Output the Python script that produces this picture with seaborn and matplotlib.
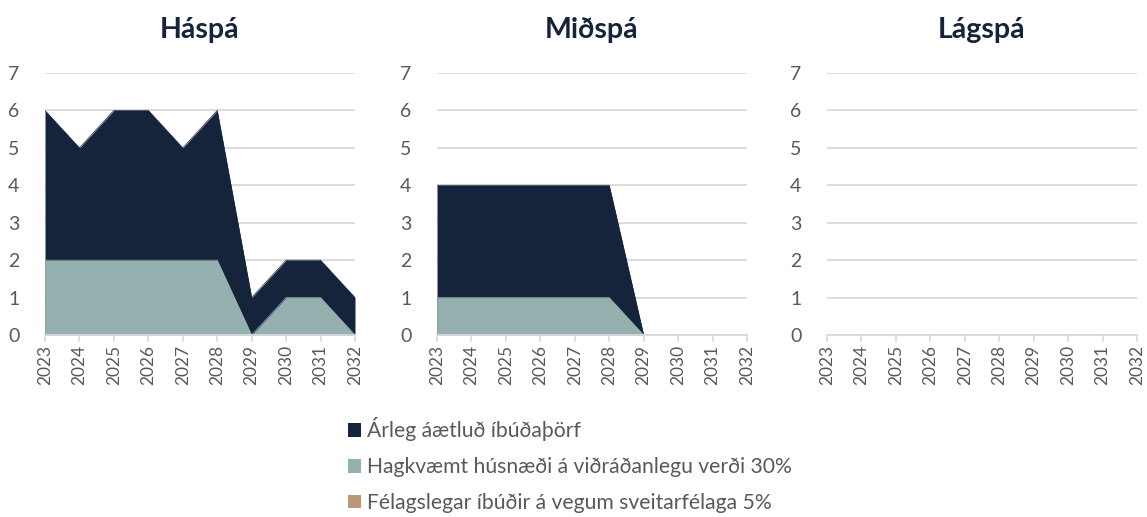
import numpy as np
import pandas as pd
import matplotlib
matplotlib.use("Agg")
import matplotlib.pyplot as plt
from matplotlib.patches import Patch
import seaborn as sns

years = [2023, 2024, 2025, 2026, 2027, 2028, 2029, 2030, 2031, 2032]
panels = ["Háspá", "Miðspá", "Lágspá"]
series_names = ["Árleg áætluð íbúðaþörf",
                "Hagkvæmt húsnæði á viðráðanlegu verði 30%",
                "Félagslegar íbúðir á vegum sveitarfélaga 5%"]

# Háspá
has_total = [6, 5, 6, 6, 5, 6, 1, 2, 2, 1]
has_afford = [2, 2, 2, 2, 2, 2, 0, 1, 1, 0]
has_social = [0, 0, 0, 0, 0, 0, 0, 0, 0, 0]
# Miðspá
mid_total = [4, 4, 4, 4, 4, 4, 0, np.nan, np.nan, np.nan]
mid_afford = [1, 1, 1, 1, 1, 1, 0, np.nan, np.nan, np.nan]
mid_social = [0, 0, 0, 0, 0, 0, 0, np.nan, np.nan, np.nan]
# Lágspá
lag_total = [np.nan] * 10
lag_afford = [np.nan] * 10
lag_social = [np.nan] * 10

colors = ["#15233b", "#94b1b0", "#b8977a"]

data = {
    "Háspá": [has_total, has_afford, has_social],
    "Miðspá": [mid_total, mid_afford, mid_social],
    "Lágspá": [lag_total, lag_afford, lag_social],
}

sns.set_style("white")
plt.rcParams["font.family"] = ["Lato", "DejaVu Sans"]

fig = plt.figure(figsize=(11.47, 5.17), dpi=100)
lefts = [45 / 1147, 437 / 1147, 827 / 1147]
w = 310 / 1147
bottom = (517 - 335) / 517
h = (335 - 73) / 517

for name, left in zip(panels, lefts):
    ax = fig.add_axes([left, bottom, w, h])
    vals = data[name]
    for v, c in zip(vals, colors):
        df = pd.DataFrame({"year": years, "value": v})
        if df["value"].notna().any():
            ax.fill_between(df["year"], 0, df["value"], color=c, linewidth=0, zorder=2)
            sns.lineplot(data=df, x="year", y="value", ax=ax, color=c, linewidth=0.5, zorder=2)
    ax.set_xlim(years[0], years[-1])
    ax.set_ylim(0, 7)
    ax.set_yticks(range(0, 8))
    ax.set_xticks(years)
    ax.set_xticklabels([str(y) for y in years], rotation=90)
    ax.set_xlabel("")
    ax.set_ylabel("")
    ax.grid(axis="y", color="#d9d9d9", linewidth=1.3, zorder=0)
    ax.grid(axis="x", visible=False)
    for s in ["top", "right", "left"]:
        ax.spines[s].set_visible(False)
    ax.spines["bottom"].set_color("#d9d9d9")
    ax.spines["bottom"].set_linewidth(1.3)
    ax.tick_params(axis="x", which="both", bottom=True, length=5, width=1.2,
                   color="#d9d9d9", labelsize=12.5, labelcolor="#595959", pad=2)
    ax.tick_params(axis="y", left=False, labelsize=14, labelcolor="#595959", pad=15)
    ax.set_axisbelow(True)
    ax.set_title(name, fontsize=20.5, fontweight="bold", color="#15233b", pad=25)

handles = [Patch(facecolor=c, edgecolor="none") for c in colors]
fig.legend(handles, series_names, loc="upper left",
           bbox_to_anchor=(340 / 1147, 1 - 409 / 517), frameon=False,
           fontsize=15.2, labelcolor="#595959", handlelength=0.6, handleheight=0.6,
           handletextpad=0.3, labelspacing=0.75, borderaxespad=0)

fig.savefig("out.png", dpi=100)
